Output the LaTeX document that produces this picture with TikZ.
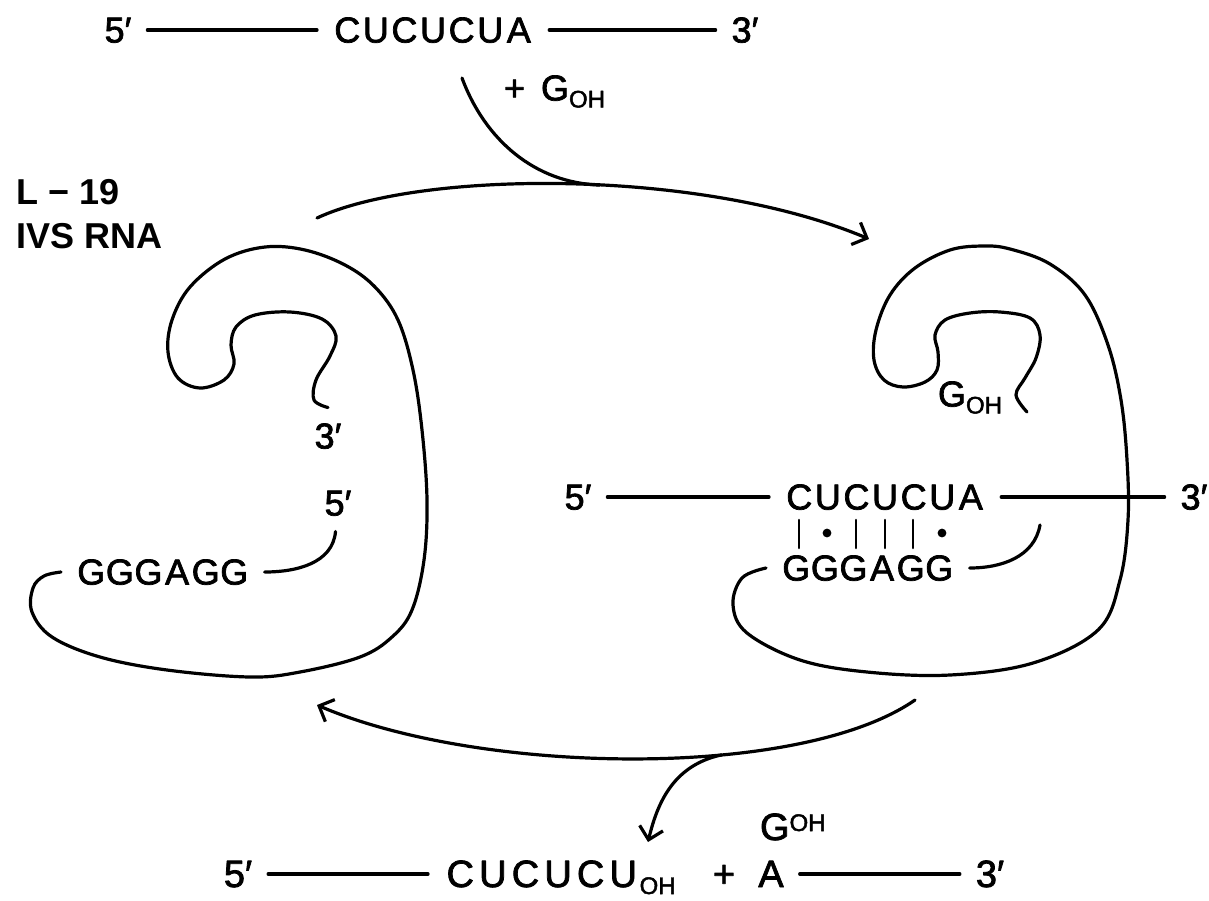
\documentclass[tikz,border=0pt]{standalone}
\usepackage{fontspec}
\setmainfont{Liberation Sans}
\newfontfamily\seqfont[FakeBold=2]{Liberation Sans}
\usetikzlibrary{arrows.meta}

% one base = one fixed-width box, so the pairing marks line up
\newcommand\nt[1]{\makebox[14.3pt]{#1}}
\newcommand\ntb[1]{\makebox[16.3pt]{#1}}
\newcommand\subOH{\raisebox{-3.5pt}{\fontsize{12}{12}\selectfont OH}}
\newcommand\supOH{\raisebox{4.5pt}{\fontsize{12}{12}\selectfont OH}}

\tikzset{
  txt/.style={inner sep=0pt, outer sep=8pt, text height=12.5pt, text depth=0pt,
              font=\seqfont\fontsize{18}{21}\selectfont},
  big/.style={txt, text height=13pt, font=\seqfont\fontsize{19}{22}\selectfont},
  arr/.style={-{Straight Barb[length=6pt,width=12pt]}},
  rna/.style={smooth, tension=0.6},
}

\begin{document}
\begin{tikzpicture}[x=0.5pt, y=-0.5pt, line width=1.6pt, line cap=round, line join=round]
\useasboundingbox (0,0) rectangle (1209,900);

% substrate on top (west anchors sit 16 units left of the text because of outer sep)
\node[txt] (t5) at (118,30) {5′};
\node[txt, anchor=west] (tseq) at (317,30) {\nt C\nt U\nt C\nt U\nt C\nt U\nt A};
\node[txt] (t3) at (745,30) {3′};
\draw (t5) -- (tseq);
\draw (tseq) -- (t3);
\node[txt, anchor=west] (goh) at (488,88) {+\hspace{8pt}G\subOH};

\node[anchor=west, align=left, inner sep=0pt,
      font=\fontsize{18}{22}\selectfont\bfseries] (ivs) at (15,214) {L − 19\\IVS RNA};

% upper arrow with the incoming branch
\coordinate (ta) at (317,218);
\coordinate (tb) at (869,239);
\coordinate (tin) at (462,78);
\draw[arr] (ta) .. controls (420,170) and (700,168) .. coordinate[pos=0.55] (tj) (tb);
\draw (tin) .. controls (485,140) and (535,183) .. (tj);

% free enzyme (left)
\node[txt] (l3) at (328,436) {3′};
\node[txt] (l5) at (338,503) {5′};
\node[txt, anchor=west] (lg) at (61,572) {\nt G\nt G\nt G\nt A\nt G\nt G};
\draw (lg) to[out=0, in=-95] (l5);
\draw plot[rna] coordinates {(l3.north) (314,400) (316,380) (330,356) (336,336)
  (322,319) (290,312) (255,315) (236,327) (231,345) (234,364) (224,380) (200,388)
  (178,378) (168,352) (172,320) (190,287) (225,259) (265,247) (305,250) (345,265)
  (375,287) (398,320) (413,370) (422,430) (427,500) (424,560) (412,610) (392,637)
  (360,657) (300,672) (250,677) (167,670) (100,657) (52,637) (32,612) (33,588)
  (44,576) (lg.west)};

% enzyme with bound substrate (right)
\node[txt] (m5) at (578,497) {5′};
\node[txt, anchor=west] (mseq) at (769,497) {\nt C\nt U\nt C\nt U\nt C\nt U\nt A};
\node[txt] (m3) at (1194,497) {3′};
\draw (m5) -- (mseq);
\draw (mseq) -- (m3);
\node[txt, anchor=west] (rg) at (766,568) {\nt G\nt G\nt G\nt A\nt G\nt G};
\foreach \x in {799,856,885,913}
  \draw[line width=1.3pt] (\x,520) -- (\x,548);
\foreach \x in {827,942}
  \fill (\x,533) circle (2.2pt);
\coordinate (rs) at (1040,525);
\draw (rg) to[out=0, in=-100] (rs);
\node[txt, anchor=west] (rgoh) at (922,394) {G\subOH};
\draw plot[rna] coordinates {(rg.west) (742,578) (733,605) (747,633) (800,660)
  (867,672) (950,675) (1033,663) (1098,630) (1120,580) (1128,520) (1127,460)
  (1121,400) (1108,345) (1085,295) (1050,264) (1010,249) (983,246) (950,250)
  (915,268) (890,295) (876,330) (874,360) (884,380) (903,387) (925,382) (937,370)
  (938,352) (935,335) (945,320) (970,313) (1000,312) (1030,318) (1040,335)
  (1036,358) (1025,378) (1016,395) (1027,412)};

% lower arrow with the outgoing branch
\coordinate (ba) at (915,700);
\coordinate (bb) at (317,705);
\coordinate (bt) at (648,842);
\draw[arr] (ba) .. controls (800,780) and (480,775) .. coordinate[pos=0.37] (bj) (bb);
\draw[arr] (bj) .. controls (675,765) and (658,800) .. (bt);

% products
\node[big] (b5) at (238,874) {5′};
\node[big, anchor=west] (bseq) at (428,874) {\ntb C\ntb U\ntb C\ntb U\ntb C\ntb U\subOH};
\node[big] (bplus) at (724,874) {+};
\node[big] (bA) at (771,874) {A};
\node[big, anchor=west] (bG) at (744,827) {G\supOH};
\node[big] (b3) at (990,874) {3′};
\draw (b5) -- (bseq);
\draw (bA) -- (b3);

\end{tikzpicture}
\end{document}
